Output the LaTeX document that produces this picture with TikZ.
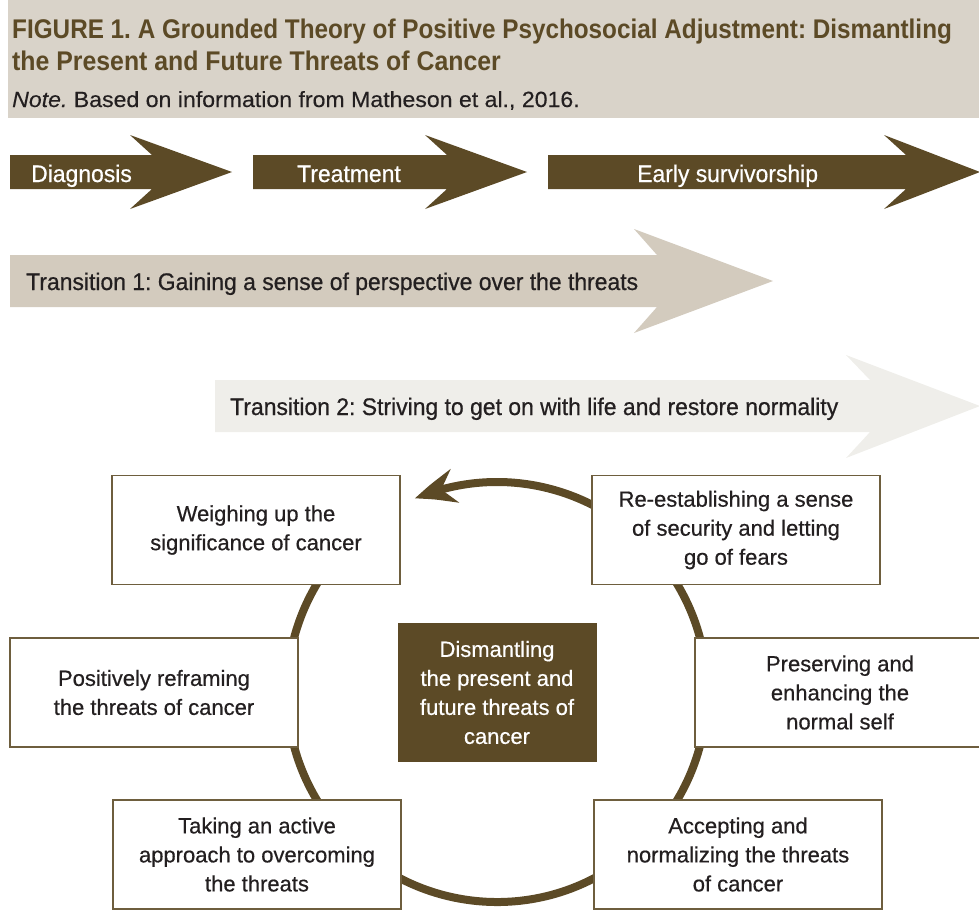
\documentclass[tikz,border=0pt]{standalone}
\usepackage{fontspec}
\setmainfont{Liberation Sans}[FakeBold=0.5]
\newfontfamily\titlef[FakeStretch=0.90]{Liberation Sans}
\newfontfamily\titlefb[FakeStretch=0.92]{Liberation Sans}
\newfontfamily\condf[FakeStretch=0.955,FakeBold=0.6]{Liberation Sans}
\newfontfamily\notef[FakeStretch=1.05,FakeBold=0.3]{Liberation Sans}
\usetikzlibrary{arrows.meta,bending,calc}
\definecolor{brn}{HTML}{5C4A26}
\definecolor{hdr}{HTML}{D9D3C9}
\definecolor{tone}{HTML}{D3CBBE}
\definecolor{ttwo}{HTML}{EFEEEA}
\definecolor{txt}{HTML}{231F20}
\definecolor{bord}{HTML}{6E5E3E}
\frenchspacing
\begin{document}
\frenchspacing
\begin{tikzpicture}[x=1pt,y=-1pt,
  box/.style={draw=bord, line width=1.5pt, fill=white, align=center,
    font=\fontsize{22}{29}\selectfont, text=txt, inner sep=0pt,
    minimum width=288pt, minimum height=109pt},
  corebox/.style={fill=brn, align=center, font=\fontsize{22}{29}\selectfont,
    text=white, inner sep=0pt, minimum width=199pt, minimum height=139pt},
  titletext/.style={anchor=base west, inner sep=0pt, text=brn,
    font=\titlef\bfseries\fontsize{27}{32}\selectfont},
  titletextb/.style={anchor=base west, inner sep=0pt, text=brn,
    font=\titlefb\bfseries\fontsize{27}{32}\selectfont},
  notetext/.style={anchor=base west, inner sep=0pt, text=txt,
    font=\notef\fontsize{22}{26}\selectfont},
  phasetext/.style={anchor=base west, inner sep=0pt, text=white,
    font=\condf\fontsize{24}{28}\selectfont},
  transtext/.style={anchor=base west, inner sep=0pt, text=txt,
    font=\condf\fontsize{24}{28}\selectfont},
  cyclearc/.style={draw=brn, line width=8pt},
]
\useasboundingbox (0,0) rectangle (979,911);
% header band
\fill[hdr] (8,0) rectangle (979,118);
\node[titletext] (t1) at (12,38) {FIGURE 1. A Grounded Theory of Positive Psychosocial Adjustment: Dismantling};
\node[titletextb] (t2) at (12,70) {the Present and Future Threats of Cancer};
\node[notetext] (note) at (12,107) {\textit{Note.} Based on information from Matheson et al., 2016.};

% phase arrows
\fill[brn] (10,155) -- (152,155) -- (130,135) -- (232,172) -- (130,209) -- (152,189) -- (10,189) -- cycle;
\fill[brn] (253,155) -- (447,155) -- (425,135) -- (527,172) -- (425,209) -- (447,189) -- (253,189) -- cycle;
\fill[brn] (548,155) -- (906,155) -- (884,135) -- (980,172) -- (884,209) -- (906,189) -- (548,189) -- cycle;
\node[phasetext] (p1) at (31,182) {Diagnosis};
\node[phasetext] (p2) at (297,182) {Treatment};
\node[phasetext] (p3) at (637,182) {Early survivorship};

% transition arrows
\fill[tone] (10,255) -- (657,255) -- (634,229) -- (773,281) -- (634,333) -- (657,307) -- (10,307) -- cycle;
\node[transtext] (tr1) at (26,290) {Transition 1: Gaining a sense of perspective over the threats};
\fill[ttwo] (215,380) -- (870,380) -- (846,355) -- (980,406) -- (846,458) -- (870,432) -- (215,432) -- cycle;
\node[transtext] (tr2) at (230,415) {Transition 2: Striving to get on with life and restore normality};

% cycle
\coordinate (c) at (497,692);
\draw[cyclearc, -{Stealth[length=42pt, width=34pt, inset=14pt, bend]}]
  ($(c)+(235:210)$) arc[start angle=235, end angle=-113, radius=210];

% boxes
\node[box] (b1) at (256,530) {Weighing up the\\significance of cancer};
\node[box] (b2) at (736,530) {Re-establishing a sense\\of security and letting\\go of fears};
\node[box] (b3) at (154,692.5) {Positively reframing\\the threats of cancer};
\node[box, minimum width=290pt] (b4) at (840,692.5) {Preserving and\\enhancing the\\normal self};
\node[box] (b5) at (257,854.5) {Taking an active\\approach to overcoming\\the threats};
\node[box] (b6) at (738,854.5) {Accepting and\\normalizing the threats\\of cancer};
\node[corebox] (core) at (497,692.5) {Dismantling\\the present and\\future threats of\\cancer};
\end{tikzpicture}
\end{document}
